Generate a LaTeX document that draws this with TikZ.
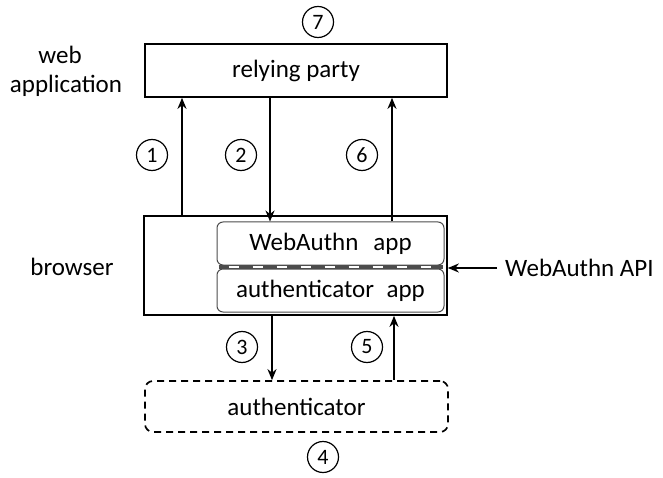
\documentclass[tikz,border=0pt]{standalone}
\usepackage{fontspec}
\setmainfont{Carlito}
\usetikzlibrary{arrows.meta}
\begin{document}
\begin{tikzpicture}[x=1pt,y=-1pt,
  box/.style={draw,line width=1.7pt,minimum width=#1,inner sep=0pt,font=\fontsize{25}{29}\selectfont},
  appbox/.style={draw=black!70,line width=1pt,rounded corners=6pt,minimum width=227,minimum height=43,inner sep=0pt,font=\fontsize{25}{29}\selectfont},
  num/.style={draw,circle,line width=1.2pt,minimum size=31,inner sep=0pt,font=\fontsize{22}{25}\selectfont},
  lbl/.style={font=\fontsize{25}{29}\selectfont,inner sep=0pt},
  arr/.style={line width=2pt,-{Stealth[length=11pt,width=9pt]}}]
\useasboundingbox (0,0) rectangle (663,478);
\node[box=302,minimum height=53] (rp) at (296,70.5) {relying party};
\node[box=303,minimum height=99] (br) at (295.5,265.5) {};
\node[appbox] (wa) at (330.5,243.5) {WebAuthn\hspace{0.6em}app};
\node[appbox] (aa) at (330.5,290.5) {authenticator\hspace{0.5em}app};
\node[box=303,minimum height=51,dashed,dash pattern=on 7pt off 5pt,rounded corners=8pt] (au) at (296.5,406.5) {authenticator};
\draw[black!70,line width=4pt] (wa.south west) ++(2,1.8) -- ([xshift=-2pt,yshift=-1.8pt]wa.south east);
\draw[white,line width=2pt,dash pattern=on 10pt off 14pt] ([xshift=12pt,yshift=-1.8pt]wa.south west) -- ([xshift=-4pt,yshift=-1.8pt]wa.south east);
\node[lbl] (web) at (60,55) {web};
\node[lbl] (app) at (66,86) {application};
\node[lbl] (bro) at (72,267) {browser};
\node[lbl,anchor=west] (api) at (505,268) {WebAuthn API};
\coordinate (x1) at (182,0);
\coordinate (x2) at (270,0);
\coordinate (x6) at (392,0);
\coordinate (x3) at (272,0);
\coordinate (x5) at (394,0);
\draw[arr] (br.north -| x1) -- (rp.south -| x1);
\draw[arr] (rp.south -| x2) -- (wa.north -| x2);
\draw[arr] (wa.north -| x6) -- (rp.south -| x6);
\draw[arr] (br.south -| x3) -- (au.north -| x3);
\draw[arr] (au.north -| x5) -- (br.south -| x5);
\draw[arr] (api.west) ++(-8,0) coordinate (apis) -- (br.east |- apis);
\node[num] (n7) at (318,22) {7};
\node[num] (n1) at (152,155) {1};
\node[num] (n2) at (241,155) {2};
\node[num] (n6) at (362,155) {6};
\node[num] (n3) at (242,347) {3};
\node[num] (n5) at (367,347) {5};
\node[num] (n4) at (323,457) {4};
\end{tikzpicture}
\end{document}
